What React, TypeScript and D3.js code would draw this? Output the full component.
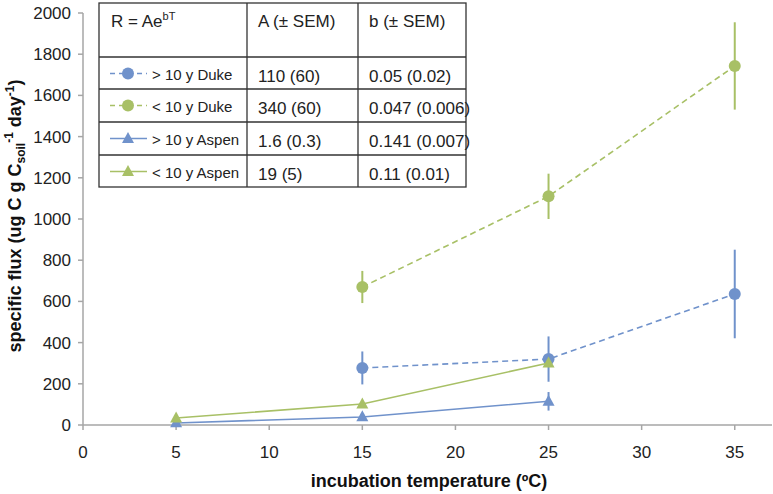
import React from "react";
import * as d3 from "d3";

// ---- data ----
const yTicks = [0, 200, 400, 600, 800, 1000, 1200, 1400, 1600, 1800, 2000];
const xTicks = [0, 5, 10, 15, 20, 25, 30, 35];

const dukeTemps = [15, 25, 35];
const aspenTemps = [5, 15, 25];

const dukeOld = [277, 320, 636];
const dukeOldErr = [80, 110, 215];
const dukeYoung = [670, 1110, 1743];
const dukeYoungErr = [78, 110, 212];
const aspenOld = [10, 39, 115];
const aspenOldErr = [4, 8, 45];
const aspenYoung = [34, 102, 301];
const aspenYoungErr = [5, 10, 20];

const seriesNames = ["> 10 y Duke", "< 10 y Duke", "> 10 y Aspen", "< 10 y Aspen"];
const aValues = ["110 (60)", "340 (60)", "1.6 (0.3)", "19 (5)"];
const bValues = ["0.05 (0.02)", "0.047 (0.006)", "0.141 (0.007)", "0.11 (0.01)"];
const tableHeaders = ["A (± SEM)", "b (± SEM)"];

const BLUE = "#7092cb";
const GREEN = "#a8c066";

type Series = {
  name: string;
  xs: number[];
  ys: number[];
  err: number[];
  color: string;
  marker: "circle" | "triangle";
  dashed: boolean;
};

const series: Series[] = [
  { name: seriesNames[0], xs: dukeTemps, ys: dukeOld, err: dukeOldErr, color: BLUE, marker: "circle", dashed: true },
  { name: seriesNames[1], xs: dukeTemps, ys: dukeYoung, err: dukeYoungErr, color: GREEN, marker: "circle", dashed: true },
  { name: seriesNames[2], xs: aspenTemps, ys: aspenOld, err: aspenOldErr, color: BLUE, marker: "triangle", dashed: false },
  { name: seriesNames[3], xs: aspenTemps, ys: aspenYoung, err: aspenYoungErr, color: GREEN, marker: "triangle", dashed: false },
];

const FONT = "'Helvetica Neue', Helvetica, 'Liberation Sans', Arial, sans-serif";

function Marker({ kind, cx, cy, color }: { kind: string; cx: number; cy: number; color: string }) {
  if (kind === "circle") return <circle cx={cx} cy={cy} r={6} fill={color} />;
  const w = 12, h = 11;
  return (
    <path
      d={`M${cx},${cy - h * 0.6} L${cx + w / 2},${cy + h * 0.4} L${cx - w / 2},${cy + h * 0.4} Z`}
      fill={color}
    />
  );
}

export default function App() {
  const W = 773, H = 494;
  const x = d3.scaleLinear().domain([0, 37]).range([83, 772]);
  const y = d3.scaleLinear().domain([0, 2000]).range([425, 13]);
  const line = d3.line<[number, number]>().x((d) => x(d[0])).y((d) => y(d[1]));

  // table geometry
  const colEdges = [99, 247, 358, 466];
  const rowEdges = [3, 57, 89, 122, 155, 187];

  return (
    <svg
      width={W}
      height={H}
      style={{ position: "absolute", left: 0, top: 0, background: "#fff" }}
      fontFamily={FONT}
    >
      <rect x={0} y={0} width={W} height={H} fill="#fff" />
      {/* axes */}
      <line x1={x(0)} x2={x(37)} y1={y(0)} y2={y(0)} stroke="#a6a6a6" strokeWidth={1.5} />
      <line x1={x(0)} x2={x(0)} y1={y(0)} y2={y(2000)} stroke="#a6a6a6" strokeWidth={1.5} />
      {yTicks.map((t) => (
        <g key={"y" + t}>
          <line x1={x(0) - 5} x2={x(0)} y1={y(t)} y2={y(t)} stroke="#a6a6a6" strokeWidth={1.5} />
          <text x={71} y={y(t)} dy="0.35em" textAnchor="end" fontSize={17} fill="#222">
            {t}
          </text>
        </g>
      ))}
      {xTicks.map((t) => (
        <g key={"x" + t}>
          <line x1={x(t)} x2={x(t)} y1={y(0)} y2={y(0) + 5} stroke="#a6a6a6" strokeWidth={1.5} />
          <text x={x(t)} y={458} textAnchor="middle" fontSize={17} fill="#222">
            {t}
          </text>
        </g>
      ))}

      {/* axis titles */}
      <text x={429} y={487} textAnchor="middle" fontSize={18} fontWeight="bold" fill="#111">
        incubation temperature (ºC)
      </text>
      <text
        transform={`translate(21,216) rotate(-90)`}
        textAnchor="middle"
        fontSize={18}
        fontWeight="bold"
        fill="#111"
      >
        specific flux (ug C g C
        <tspan fontSize={12} dy={4}>soil</tspan>
        <tspan fontSize={12} dy={-12}>-1</tspan>
        <tspan dy={8}> day</tspan>
        <tspan fontSize={12} dy={-7}>-1</tspan>
        <tspan dy={7}>)</tspan>
      </text>

      {/* series */}
      {series.map((s) => {
        const pts = s.xs.map((v, i) => [v, s.ys[i]] as [number, number]);
        return (
          <g key={s.name}>
            <path
              d={line(pts) || ""}
              fill="none"
              stroke={s.color}
              strokeWidth={1.6}
              strokeDasharray={s.dashed ? "6,4" : undefined}
            />
            {pts.map((p, i) => (
              <line
                key={"e" + i}
                x1={x(p[0])}
                x2={x(p[0])}
                y1={y(p[1] - s.err[i])}
                y2={y(p[1] + s.err[i])}
                stroke={s.color}
                strokeWidth={2}
              />
            ))}
            {pts.map((p, i) => (
              <Marker key={"m" + i} kind={s.marker} cx={x(p[0])} cy={y(p[1])} color={s.color} />
            ))}
          </g>
        );
      })}

      {/* table */}
      <rect
        x={colEdges[0]}
        y={rowEdges[0]}
        width={colEdges[3] - colEdges[0]}
        height={rowEdges[5] - rowEdges[0]}
        fill="#fff"
        stroke="#333"
        strokeWidth={1.3}
      />
      {rowEdges.slice(1, 5).map((r) => (
        <line key={"r" + r} x1={colEdges[0]} x2={colEdges[3]} y1={r} y2={r} stroke="#333" strokeWidth={1.3} />
      ))}
      {colEdges.slice(1, 3).map((c) => (
        <line key={"c" + c} x1={c} x2={c} y1={rowEdges[0]} y2={rowEdges[5]} stroke="#333" strokeWidth={1.3} />
      ))}
      <text x={111} y={27} fontSize={17} fill="#222">
        R = Ae<tspan fontSize={11} dy={-7}>bT</tspan>
      </text>
      {tableHeaders.map((h, i) => (
        <text key={h} x={colEdges[i + 1] + 11} y={27} fontSize={17} fill="#222">
          {h}
        </text>
      ))}
      {series.map((s, i) => {
        const top = rowEdges[i + 1];
        const cy = top + 16.5;
        return (
          <g key={"row" + i}>
            <line
              x1={110}
              x2={147}
              y1={cy}
              y2={cy}
              stroke={s.color}
              strokeWidth={1.6}
              strokeDasharray={s.dashed ? "5,4" : undefined}
            />
            <Marker kind={s.marker} cx={128} cy={cy} color={s.color} />
            <text x={152} y={top + 23} fontSize={15} fill="#222">
              {s.name}
            </text>
            <text x={colEdges[1] + 11} y={top + 24.5} fontSize={17} fill="#222">
              {aValues[i]}
            </text>
            <text x={colEdges[2] + 11} y={top + 24.5} fontSize={17} fill="#222">
              {bValues[i]}
            </text>
          </g>
        );
      })}
    </svg>
  );
}
